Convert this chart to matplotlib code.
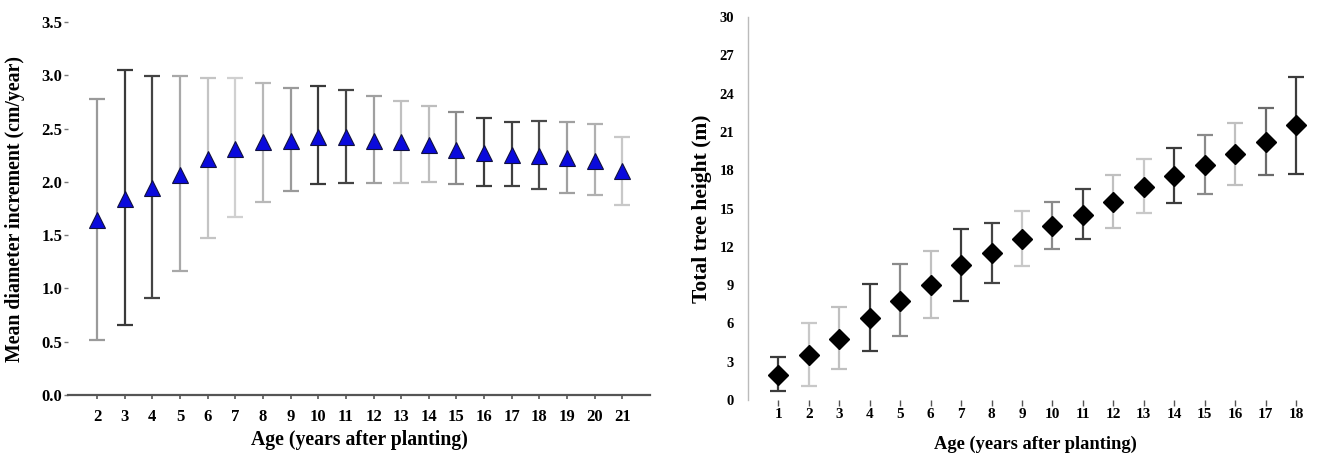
import numpy as np
import matplotlib
matplotlib.use("Agg")
import matplotlib.pyplot as plt

# Left panel: mean diameter increment
ages_d = list(range(2, 22))
diam_mean = [1.64, 1.84, 1.94, 2.06, 2.21, 2.31, 2.37, 2.38, 2.42, 2.42,
             2.38, 2.37, 2.35, 2.30, 2.27, 2.25, 2.24, 2.22, 2.20, 2.10]
diam_low = [0.52, 0.66, 0.91, 1.16, 1.47, 1.67, 1.81, 1.91, 1.98, 1.99,
            1.99, 1.99, 2.00, 1.98, 1.96, 1.96, 1.93, 1.90, 1.88, 1.78]
diam_high = [2.78, 3.05, 2.99, 2.99, 2.97, 2.97, 2.93, 2.88, 2.90, 2.86,
             2.81, 2.76, 2.71, 2.66, 2.60, 2.56, 2.57, 2.56, 2.54, 2.42]

# Right panel: total tree height
ages_h = list(range(1, 19))
height_mean = [1.98, 3.55, 4.77, 6.42, 7.77, 9.03, 10.57, 11.48, 12.6,
               13.64, 14.53, 15.52, 16.67, 17.58, 18.44, 19.25, 20.24, 21.52]
height_low = [0.68, 1.1, 2.4, 3.86, 4.98, 6.39, 7.75, 9.13, 10.51,
              11.84, 12.6, 13.44, 14.61, 15.44, 16.17, 16.83, 17.64, 17.74]
height_high = [3.37, 6.0, 7.3, 9.05, 10.62, 11.69, 13.36, 13.83, 14.8,
               15.52, 16.49, 17.6, 18.89, 19.77, 20.74, 21.68, 22.9, 25.28]

# shades of the error bars (the original scan has uneven grey levels)
shade_d = ['#9a9a9a', '#3a3a3a', '#444444', '#a8a8a8', '#c4c4c4', '#d0d0d0',
           '#b8b8b8', '#9a9a9a', '#3a3a3a', '#444444', '#a0a0a0', '#c0c0c0',
           '#bdbdbd', '#8c8c8c', '#3c3c3c', '#404040', '#4a4a4a', '#a0a0a0',
           '#b0b0b0', '#c8c8c8']
shade_h = ['#3c3c3c', '#c8c8c8', '#c0c0c0', '#3c3c3c', '#8a8a8a', '#c0c0c0',
           '#3c3c3c', '#444444', '#c8c8c8', '#8a8a8a', '#444444', '#c0c0c0',
           '#c8c8c8', '#3c3c3c', '#8a8a8a', '#c0c0c0', '#6a6a6a', '#3c3c3c']

plt.rcParams['font.family'] = ['Liberation Serif', 'DejaVu Serif']
plt.rcParams['font.weight'] = 'bold'

fig = plt.figure(figsize=(13.25, 4.65), dpi=100)

# ---- left panel ----
ax1 = fig.add_axes([0.0513, 0.1505, 0.4393, 0.8022])
for x, m, lo, hi, c in zip(ages_d, diam_mean, diam_low, diam_high, shade_d):
    ax1.errorbar(x, m, yerr=[[m - lo], [hi - m]], fmt='none', ecolor=c,
                 elinewidth=1.6, capsize=5.5, capthick=1.6, zorder=2)
ax1.plot(ages_d, diam_mean, linestyle='none', marker='^', markersize=12,
         markerfacecolor='#0a0adc', markeredgecolor='#101040',
         markeredgewidth=0.8, zorder=3)
ax1.set_xlim(0.95, 22.0)
ax1.set_ylim(0, 3.5)
ax1.set_xticks(ages_d)
ax1.set_yticks(np.arange(0, 3.51, 0.5))
ax1.yaxis.set_major_formatter(matplotlib.ticker.FormatStrFormatter('%.1f'))
for s in ['top', 'right', 'left']:
    ax1.spines[s].set_visible(False)
ax1.spines['bottom'].set_color('#555555')
ax1.spines['bottom'].set_linewidth(1.6)
ax1.tick_params(axis='x', length=3, width=1.2, color='#555555', pad=7,
                labelsize=12)
ax1.tick_params(axis='y', length=3, width=1.0, color='#777777', pad=1,
                labelsize=12)
ax1.set_xlabel('Age (years after planting)', fontsize=14.2, fontweight='bold',
               labelpad=4)
ax1.set_ylabel('Mean diameter increment (cm/year)', fontsize=14.3,
               fontweight='bold', labelpad=12)

# ---- right panel ----
ax2 = fig.add_axes([0.5645, 0.1398, 0.4332, 0.8236])
for x, m, lo, hi, c in zip(ages_h, height_mean, height_low, height_high, shade_h):
    ax2.errorbar(x, m, yerr=[[m - lo], [hi - m]], fmt='none', ecolor=c,
                 elinewidth=1.6, capsize=5.5, capthick=1.6, zorder=2)
ax2.plot(ages_h, height_mean, linestyle='none', marker='D', markersize=10,
         markerfacecolor='black', markeredgecolor='black', zorder=3)
ax2.set_xlim(0.0, 18.85)
ax2.set_ylim(0, 30)
ax2.set_xticks(ages_h)
ax2.set_yticks(np.arange(0, 31, 3))
for s in ['top', 'right', 'bottom']:
    ax2.spines[s].set_visible(False)
ax2.spines['left'].set_color('#bbbbbb')
ax2.spines['left'].set_linewidth(1.0)
ax2.tick_params(axis='x', length=4, width=1.0, color='#555555', pad=2,
                labelsize=11)
ax2.tick_params(axis='y', length=0, pad=10, labelsize=10.5)
ax2.set_xlabel('Age (years after planting)', fontsize=13.3, fontweight='bold',
               labelpad=10)
ax2.set_ylabel('Total tree height (m)', fontsize=15.5, fontweight='bold',
               labelpad=5)

fig.savefig('out.png', dpi=100)
